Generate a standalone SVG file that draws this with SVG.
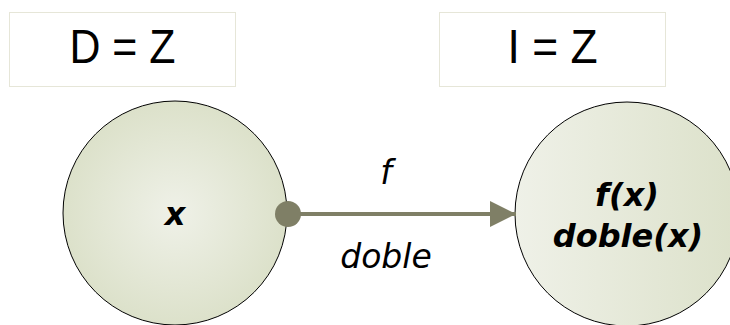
<svg xmlns="http://www.w3.org/2000/svg" width="730" height="325" viewBox="0 0 730 325">
<defs>
<radialGradient id="gL" cx="0.5" cy="0.5" r="0.5">
<stop offset="0" stop-color="#eff1e8"/>
<stop offset="1" stop-color="#dce1ca"/>
</radialGradient>
<linearGradient id="gR" x1="0" y1="0" x2="1" y2="0">
<stop offset="0" stop-color="#eff1e8"/>
<stop offset="1" stop-color="#dce1ca"/>
</linearGradient>
<marker id="arr" viewBox="0 0 10 10" refX="10" refY="5" markerWidth="6.5" markerHeight="6.5" markerUnits="strokeWidth" orient="auto">
<path d="M0,0 L10,5 L0,10 Z" fill="#7f7f66"/>
</marker>
<style>
.box{fill:#ffffff;stroke:#e6e6d8;stroke-width:1}
.big{font-family:"Liberation Sans",Arial,sans-serif;font-size:49px;fill:#000;text-anchor:middle}
.lbl{font-family:"DejaVu Sans",Verdana,sans-serif;font-style:italic;fill:#000;text-anchor:middle}
.bold{font-weight:bold}
.circ{stroke:#000;stroke-width:1}
</style>
</defs>
<g id="box-D">
<rect class="box" x="9.5" y="12.5" width="226" height="74"/>
<text class="big" x="122.5" y="63" textLength="106" lengthAdjust="spacingAndGlyphs">D = Z</text>
</g>
<g id="box-I">
<rect class="box" x="439.5" y="12.5" width="226" height="74"/>
<text class="big" x="552.5" y="63" textLength="90" lengthAdjust="spacingAndGlyphs">I = Z</text>
</g>
<g id="node-domain">
<circle class="circ" cx="175" cy="213" r="112" fill="url(#gL)"/>
<text class="lbl bold" x="175" y="225" font-size="32">x</text>
</g>
<g id="node-image">
<circle class="circ" cx="627" cy="214" r="112" fill="url(#gR)"/>
<text class="lbl bold" x="627" y="206" font-size="32">f(x)</text>
<text class="lbl bold" x="628" y="247" font-size="32">doble(x)</text>
</g>
<g id="connectors">
<line x1="288" y1="214" x2="516" y2="214" stroke="#7f7f66" stroke-width="4" marker-end="url(#arr)"/>
<circle cx="288" cy="214" r="13" fill="#7f7f66"/>
<text class="lbl" x="386" y="184" font-size="33">f</text>
<text class="lbl" x="386" y="268" font-size="33">doble</text>
</g>
</svg>
